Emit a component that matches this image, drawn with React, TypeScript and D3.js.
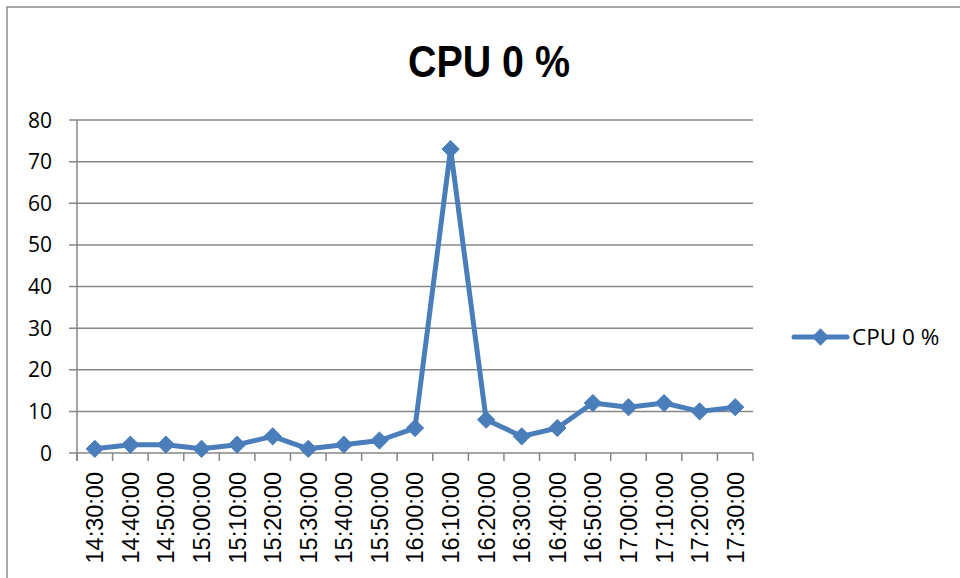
import { useEffect, useRef } from "react";
import * as d3 from "d3";

const times = [
  "14:30:00", "14:40:00", "14:50:00", "15:00:00", "15:10:00", "15:20:00", "15:30:00",
  "15:40:00", "15:50:00", "16:00:00", "16:10:00", "16:20:00", "16:30:00", "16:40:00",
  "16:50:00", "17:00:00", "17:10:00", "17:20:00", "17:30:00",
];
const cpuValues = [1, 2, 2, 1, 2, 4, 1, 2, 3, 6, 73, 8, 4, 6, 12, 11, 12, 10, 11];
const yTicks = [0, 10, 20, 30, 40, 50, 60, 70, 80];
const seriesName = "CPU 0 %";

const width = 960;
const height = 578;
const blue = "#4a7ebb";
const grid = "#868686";

export default function App() {
  const svgRef = useRef<SVGSVGElement>(null);

  useEffect(() => {
    if (!svgRef.current) return;
    const svg = d3.select(svgRef.current);
    svg.selectAll("*").remove();

    const plot = { left: 77, right: 753, top: 120, bottom: 453 };

    const x = d3.scaleBand<string>().domain(times).range([plot.left, plot.right]).padding(0);
    const y = d3.scaleLinear().domain([0, 80]).range([plot.bottom, plot.top]);
    const cx = (t: string) => (x(t) || 0) + x.bandwidth() / 2;

    // chart border
    svg.append("rect")
      .attr("x", 7).attr("y", 7)
      .attr("width", width + 20).attr("height", height + 20)
      .attr("fill", "#fff")
      .attr("stroke", "#8c8c8c")
      .attr("stroke-width", 1.5);

    // title (condensed bold, squeezed to the reference width)
    svg.append("text")
      .attr("x", 489)
      .attr("y", 77)
      .attr("text-anchor", "middle")
      .attr("textLength", 162)
      .attr("lengthAdjust", "spacingAndGlyphs")
      .style("font-family", "'Liberation Sans', Arial, sans-serif")
      .style("font-weight", "700")
      .style("font-size", "44px")
      .style("fill", "#000")
      .text(seriesName);

    // gridlines + y ticks
    svg.append("g")
      .selectAll("line")
      .data(yTicks)
      .join("line")
      .attr("x1", plot.left - 8)
      .attr("x2", plot.right)
      .attr("y1", (d) => y(d))
      .attr("y2", (d) => y(d))
      .attr("stroke", grid)
      .attr("stroke-width", 1.5);

    svg.append("g")
      .selectAll("text")
      .data(yTicks)
      .join("text")
      .attr("x", 52)
      .attr("y", (d) => y(d))
      .attr("dy", "0.36em")
      .attr("text-anchor", "end")
      .style("font-family", "'Open Sans', sans-serif")
      .style("font-size", "21px")
      .style("fill", "#000")
      .text((d) => d);

    // y axis line
    svg.append("line")
      .attr("x1", plot.left).attr("x2", plot.left)
      .attr("y1", plot.top).attr("y2", plot.bottom + 8)
      .attr("stroke", grid)
      .attr("stroke-width", 1.5);

    // x ticks at band boundaries
    const bounds = times.map((t) => x(t) || 0).concat([plot.right]);
    svg.append("g")
      .selectAll("line")
      .data(bounds)
      .join("line")
      .attr("x1", (d) => d).attr("x2", (d) => d)
      .attr("y1", plot.bottom).attr("y2", plot.bottom + 8)
      .attr("stroke", grid)
      .attr("stroke-width", 1.5);

    // x labels
    svg.append("g")
      .selectAll("text")
      .data(times)
      .join("text")
      .attr("transform", (d) => `translate(${cx(d)},${472}) rotate(-90)`)
      .attr("dy", "0.36em")
      .attr("text-anchor", "end")
      .style("font-family", "'Liberation Sans', Arial, sans-serif")
      .style("font-size", "23.5px")
      .style("fill", "#000")
      .text((d) => d);

    // series line
    const line = d3.line<number>()
      .x((_, i) => cx(times[i]))
      .y((d) => y(d));

    svg.append("path")
      .datum(cpuValues)
      .attr("d", line)
      .attr("fill", "none")
      .attr("stroke", blue)
      .attr("stroke-width", 5)
      .attr("stroke-linejoin", "round")
      .attr("stroke-linecap", "round");

    const diamond = d3.symbol().type(d3.symbolDiamond2).size(190);

    svg.append("g")
      .selectAll("path")
      .data(cpuValues)
      .join("path")
      .attr("transform", (d, i) => `translate(${cx(times[i])},${y(d)})`)
      .attr("d", diamond)
      .attr("fill", blue)
      .attr("stroke", blue)
      .attr("stroke-width", 1)
      .attr("stroke-linejoin", "round");

    // legend
    const lg = svg.append("g").attr("transform", "translate(794,337)");
    lg.append("line")
      .attr("x1", 0).attr("x2", 53)
      .attr("y1", 0).attr("y2", 0)
      .attr("stroke", blue)
      .attr("stroke-width", 5)
      .attr("stroke-linecap", "round");
    lg.append("path")
      .attr("transform", "translate(26.5,0)")
      .attr("d", diamond)
      .attr("fill", blue);
    lg.append("text")
      .attr("x", 58)
      .attr("y", 0)
      .attr("dy", "0.36em")
      .style("font-family", "'Open Sans', sans-serif")
      .style("font-size", "22.5px")
      .style("fill", "#000")
      .text(seriesName);
  }, []);

  return (
    <svg
      ref={svgRef}
      width={width}
      height={height}
      style={{ position: "absolute", left: 0, top: 0, background: "#fff" }}
    />
  );
}
